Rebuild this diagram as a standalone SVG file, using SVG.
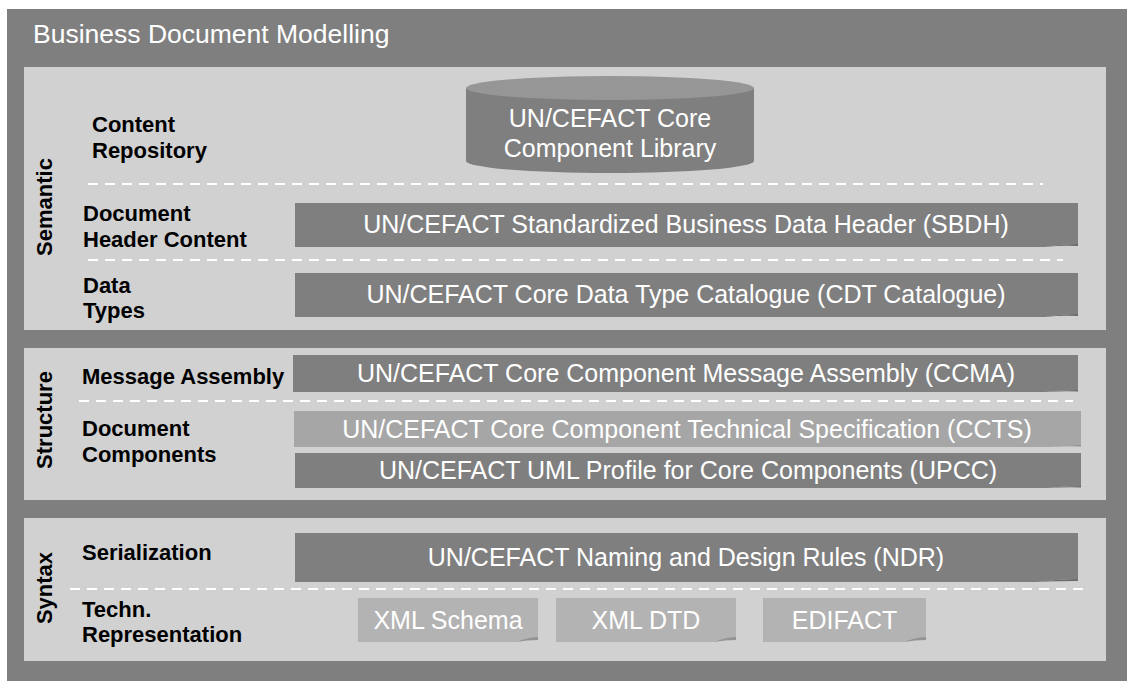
<svg xmlns="http://www.w3.org/2000/svg" width="1127" height="681" viewBox="0 0 1127 681">
<style>
.outer{fill:#7f7f7f}
.panel{fill:#d1d1d1}
.bar{fill:#7f7f7f}
.lbar{fill:#a6a6a6}
.xbox{fill:#b3b3b3}
.curl{fill:#6b6b6b}
.lcurl{fill:#939393}
.dash{stroke:#ffffff;stroke-width:2;stroke-dasharray:10 7;fill:none}
.wt{font-family:"Liberation Sans",Arial,sans-serif;font-size:25px;fill:#ffffff;text-anchor:middle}
.lbl{font-family:"Liberation Sans",Arial,sans-serif;font-size:22px;font-weight:bold;fill:#000000}
.vl{font-family:"Liberation Sans",Arial,sans-serif;font-size:22px;font-weight:bold;fill:#000000;text-anchor:middle}
.title{font-family:"Liberation Sans",Arial,sans-serif;font-size:26.5px;fill:#ffffff}
</style>
<g id="frame">
<rect class="outer" x="7" y="9" width="1120" height="672"/>
<text class="title" x="33" y="43">Business Document Modelling</text>
</g>
<g id="panels">
<rect class="panel" x="24" y="67" width="1082" height="263"/>
<rect class="panel" x="24" y="348" width="1082" height="152"/>
<rect class="panel" x="24" y="518" width="1082" height="143"/>
</g>
<g id="layer-labels">
<text class="vl" transform="translate(52,207) rotate(-90)">Semantic</text>
<text class="vl" transform="translate(52,420) rotate(-90)">Structure</text>
<text class="vl" transform="translate(52,588) rotate(-90)">Syntax</text>
</g>
<g id="row-labels">
<text class="lbl" x="92" y="132">Content</text>
<text class="lbl" x="92" y="158">Repository</text>
<text class="lbl" x="83" y="221">Document</text>
<text class="lbl" x="83" y="247">Header Content</text>
<text class="lbl" x="83" y="293">Data</text>
<text class="lbl" x="83" y="318">Types</text>
<text class="lbl" x="82" y="384">Message Assembly</text>
<text class="lbl" x="82" y="436">Document</text>
<text class="lbl" x="82" y="462">Components</text>
<text class="lbl" x="82" y="560">Serialization</text>
<text class="lbl" x="82" y="617">Techn.</text>
<text class="lbl" x="82" y="642">Representation</text>
</g>
<g id="connectors">
<line class="dash" x1="88" y1="184" x2="1043" y2="184"/>
<line class="dash" x1="88" y1="260" x2="1063" y2="260"/>
<line class="dash" x1="79" y1="401" x2="1073" y2="401"/>
<line class="dash" x1="70" y1="589" x2="1088" y2="589"/>
</g>
<g id="ccl">
<path class="bar" d="M466,88 L466,161 A144,12 0 0 0 754,161 L754,88 Z"/>
<ellipse cx="610" cy="88" rx="144" ry="12" fill="#969696"/>
<text class="wt" x="610" y="127">UN/CEFACT Core</text>
<text class="wt" x="610" y="157">Component Library</text>
</g>
<g id="sbdh">
<path class="bar" d="M295,203 L1078,203 L1078,244 Q1060,244 1045,247 L295,247 Z"/>
<path class="curl" d="M1045,247 Q1060,244 1078,244 L1078,246 Q1062,245 1045,247 Z"/>
<text class="wt" x="686" y="233">UN/CEFACT Standardized Business Data Header (SBDH)</text>
</g>
<g id="cdt">
<path class="bar" d="M295,273 L1078,273 L1078,314 Q1060,314 1045,317 L295,317 Z"/>
<path class="curl" d="M1045,317 Q1060,314 1078,314 L1078,316 Q1062,315 1045,317 Z"/>
<text class="wt" x="686" y="303">UN/CEFACT Core Data Type Catalogue (CDT Catalogue)</text>
</g>
<g id="ccma">
<path class="bar" d="M293,355 L1078,355 L1078,390 Q1060,390 1045,392 L293,392 Z"/>
<path class="curl" d="M1045,392 Q1060,390 1078,390 L1078,391.5 Q1062,391 1045,392 Z"/>
<text class="wt" x="686" y="382">UN/CEFACT Core Component Message Assembly (CCMA)</text>
</g>
<g id="ccts">
<path class="lbar" d="M294,411 L1081,411 L1081,445 Q1063,445 1048,447 L294,447 Z"/>
<path class="lcurl" d="M1048,447 Q1063,445 1081,445 L1081,446.5 Q1065,446 1048,447 Z"/>
<text class="wt" x="687" y="438">UN/CEFACT Core Component Technical Specification (CCTS)</text>
</g>
<g id="upcc">
<path class="bar" d="M295,453 L1081,453 L1081,486 Q1063,486 1048,488 L295,488 Z"/>
<path class="curl" d="M1048,488 Q1063,486 1081,486 L1081,487.5 Q1065,487 1048,488 Z"/>
<text class="wt" x="688" y="479">UN/CEFACT UML Profile for Core Components (UPCC)</text>
</g>
<g id="ndr">
<path class="bar" d="M295,533 L1078,533 L1078,579 Q1060,579 1037,582 L295,582 Z"/>
<path class="curl" d="M1037,582 Q1060,579 1078,579 L1078,581 Q1060,581 1037,582 Z"/>
<text class="wt" x="686" y="566">UN/CEFACT Naming and Design Rules (NDR)</text>
</g>
<g id="xsd">
<path class="xbox" d="M358,598 L538,598 L538,637 Q528,637 516,642 L358,642 Z"/>
<path class="lcurl" d="M516,642 Q528,637 538,637 L538,640 Q527,640 516,642 Z"/>
<text class="wt" x="448" y="629">XML Schema</text>
</g>
<g id="dtd">
<path class="xbox" d="M556,598 L736,598 L736,637 Q726,637 714,642 L556,642 Z"/>
<path class="lcurl" d="M714,642 Q726,637 736,637 L736,640 Q725,640 714,642 Z"/>
<text class="wt" x="646" y="629">XML DTD</text>
</g>
<g id="edifact">
<path class="xbox" d="M763,598 L926,598 L926,637 Q916,637 904,642 L763,642 Z"/>
<path class="lcurl" d="M904,642 Q916,637 926,637 L926,640 Q915,640 904,642 Z"/>
<text class="wt" x="844.5" y="629">EDIFACT</text>
</g>
</svg>
